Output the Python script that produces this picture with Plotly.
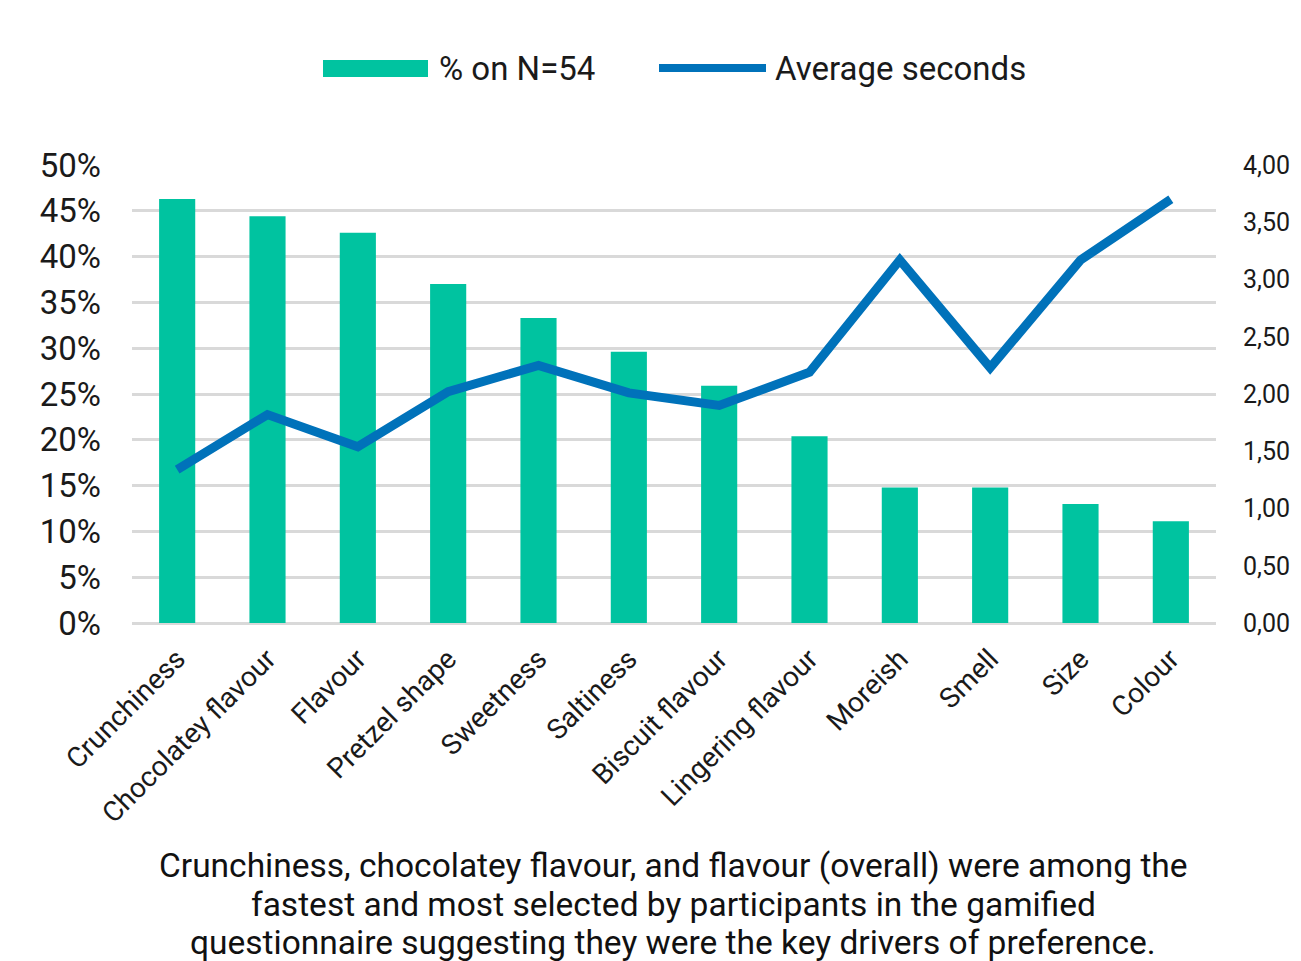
import plotly.graph_objects as go

# Attributes and their results
attributes = [
    "Crunchiness", "Chocolatey flavour", "Flavour", "Pretzel shape",
    "Sweetness", "Saltiness", "Biscuit flavour", "Lingering flavour",
    "Moreish", "Smell", "Size", "Colour",
]
pct_selected = [0.463, 0.444, 0.426, 0.370, 0.333, 0.296, 0.259, 0.204,
                0.148, 0.148, 0.130, 0.111]
avg_seconds = [1.34, 1.82, 1.54, 2.02, 2.25, 2.01, 1.90, 2.19,
               3.17, 2.23, 3.17, 3.70]

bar_name = "% on N=54"
line_name = "Average seconds"
caption_lines = [
    "Crunchiness, chocolatey flavour, and flavour (overall) were among the",
    "fastest and most selected by participants in the gamified",
    "questionnaire suggesting they were the key drivers of preference.",
]

GREEN = "#00C3A0"
BLUE = "#0072BA"
GRID = "#D9D9D9"
FONT = "Roboto, Arial, sans-serif"

fig = go.Figure()
fig.add_trace(go.Bar(
    x=attributes, y=pct_selected, name=bar_name,
    marker=dict(color=GREEN, line=dict(width=0)),
    yaxis="y",
))
fig.add_trace(go.Scatter(
    x=attributes, y=avg_seconds, name=line_name, mode="lines",
    line=dict(color=BLUE, width=9),
    yaxis="y2",
))

fig.update_layout(
    width=1301, height=961,
    margin=dict(l=132, r=85, t=165, b=338),
    paper_bgcolor="white", plot_bgcolor="white",
    separators=",.",
    showlegend=False,
    bargap=0.6,
    font=dict(family=FONT, color="#1a1a1a"),
    xaxis=dict(
        tickangle=-45, tickfont=dict(size=28, color="#1a1a1a"),
        showgrid=False, showline=False, ticks="", ticklabelstandoff=13,
    ),
    yaxis=dict(
        range=[0, 0.5], dtick=0.05, tickformat=".0%",
        tickfont=dict(size=33, color="#1a1a1a"),
        showgrid=True, gridcolor=GRID, gridwidth=2.5,
        zeroline=True, zerolinecolor=GRID, zerolinewidth=2.5,
        showline=False, ticks="", ticklabelstandoff=30,
    ),
    yaxis2=dict(
        range=[0, 4], dtick=0.5, tickformat=".2f",
        overlaying="y", side="right",
        tickfont=dict(size=25, color="#1a1a1a"),
        showgrid=False, zeroline=False, showline=False, ticks="",
        ticklabelstandoff=26,
    ),
)

# Legend drawn across the top
legend_y = 1 + (165 - 68) / 458
fig.add_shape(type="rect", xref="paper", yref="paper",
              x0=(323 - 132) / 1084, x1=(428 - 132) / 1084,
              y0=1 + (165 - 77) / 458, y1=1 + (165 - 60) / 458,
              fillcolor=GREEN, line=dict(width=0))
fig.add_annotation(text=bar_name, xref="paper", yref="paper",
                   x=(437 - 132) / 1084, y=legend_y,
                   xanchor="left", yanchor="middle", showarrow=False,
                   font=dict(size=33, color="#1a1a1a"))
fig.add_shape(type="line", xref="paper", yref="paper",
              x0=(659 - 132) / 1084, x1=(766 - 132) / 1084,
              y0=legend_y, y1=legend_y,
              line=dict(color=BLUE, width=8))
fig.add_annotation(text=line_name, xref="paper", yref="paper",
                   x=(773 - 132) / 1084, y=legend_y,
                   xanchor="left", yanchor="middle", showarrow=False,
                   font=dict(size=33, color="#1a1a1a"))

# Caption under the chart
for i, line in enumerate(caption_lines):
    fig.add_annotation(text=line, xref="paper", yref="paper",
                       x=(673 - 132) / 1084,
                       y=-(865 + 39 * i - 623) / 458,
                       xanchor="center", yanchor="middle", showarrow=False,
                       font=dict(size=33.5, color="#111111"))

fig.write_html("out.html")
